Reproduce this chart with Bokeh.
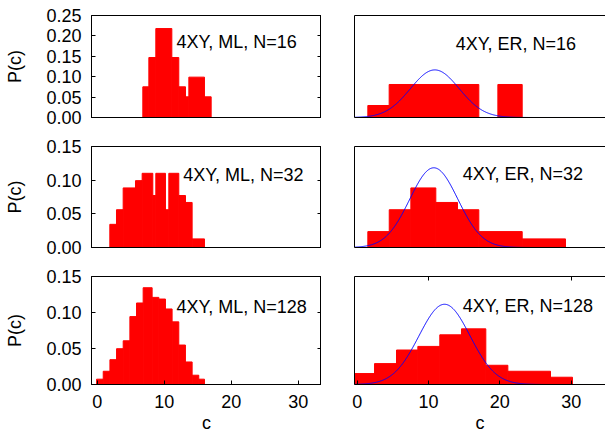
import numpy as np
from bokeh.plotting import figure
from bokeh.models import Range1d, FixedTicker, NumeralTickFormatter, LinearAxis, Label
from bokeh.layouts import column, row
from bokeh.embed import file_html
from bokeh.resources import INLINE

# ---------------- data ----------------
x_ticks = [0, 10, 20, 30]
x_top_ticks_er = [10, 30]
y_ticks_r1 = [0.00, 0.05, 0.10, 0.15, 0.20, 0.25]
y_ticks_r23 = [0.00, 0.05, 0.10, 0.15]

# ML histograms (bin left edge, bin right edge, P(c))
ml16_left = [6.81, 7.71, 8.75, 11.14, 12.18, 13.18, 13.68, 16.01]
ml16_right = [7.71, 8.75, 11.14, 12.18, 13.18, 13.68, 16.01, 17.01]
ml16_p = [0.0752, 0.147, 0.218, 0.147, 0.0752, 0.0507, 0.0989, 0.0507]

ml32_left = [1.885, 2.88, 3.876, 5.716, 6.71, 8.30, 8.75, 10.19, 10.69, 12.18, 13.18, 14.17]
ml32_right = [2.88, 3.876, 5.716, 6.71, 8.30, 8.75, 10.19, 10.69, 12.18, 13.18, 14.17, 16.01]
ml32_p = [0.0344, 0.0561, 0.0885, 0.0993, 0.1102, 0.0772, 0.1102, 0.0561, 0.1102, 0.0772, 0.0669, 0.0128]

ml128_left = [-0.09, 0.90, 1.90, 2.89, 3.88, 4.88, 5.87, 6.86, 8.20, 9.20, 10.19, 11.18, 12.18, 13.17, 14.17, 15.16]
ml128_right = [0.90, 1.90, 2.89, 3.88, 4.88, 5.87, 6.86, 8.20, 9.20, 10.19, 11.18, 12.18, 13.17, 14.17, 15.16, 16.01]
ml128_p = [0.0074, 0.0184, 0.0345, 0.0497, 0.0607, 0.0943, 0.1132, 0.1344, 0.1210, 0.1187,
           0.1049, 0.0870, 0.0548, 0.0313, 0.0129, 0.0074]

# ER histograms
er16_left = [1.49, 4.48, 19.72]
er16_right = [4.48, 17.05, 23.13]
er16_p = [0.0294, 0.0809, 0.0809]

er32_left = [1.49, 4.49, 7.52, 11.02, 14.06, 17.05, 23.13]
er32_right = [4.49, 7.52, 11.02, 14.06, 17.05, 23.13, 29.20]
er32_p = [0.0236, 0.0561, 0.0885, 0.0669, 0.0561, 0.0236, 0.0128]

er128_left = [-0.56, 2.43, 5.51, 8.50, 11.58, 14.62, 18.03, 21.12, 27.10]
er128_right = [2.43, 5.51, 8.50, 11.58, 14.62, 18.03, 21.12, 27.10, 30.18]
er128_p = [0.0152, 0.0290, 0.0479, 0.0529, 0.0690, 0.0773, 0.0267, 0.0184, 0.0101]

# Gaussian fits drawn on the ER panels (mean, standard deviation)
er_mu = [10.88, 10.74, 12.24]
er_sigma = [3.42, 3.37, 3.58]

panel_texts = [["4XY, ML, N=16", "4XY, ER, N=16"],
               ["4XY, ML, N=32", "4XY, ER, N=32"],
               ["4XY, ML, N=128", "4XY, ER, N=128"]]
y_label = "P(c)"
x_label = "c"

# ---------------- styling ----------------
FONT = "Liberation Sans"
FS = "18px"
L_XR = (-0.85, 33.48)
R_XR = (-0.38, 34.81)
rows_cfg = [
    dict(ymax=0.25, ticks=y_ticks_r1, fh=102, bt=15, bb=20),
    dict(ymax=0.15, ticks=y_ticks_r23, fh=101, bt=9, bb=20),
    dict(ymax=0.15, ticks=y_ticks_r23, fh=108, bt=9, bb=53),
]
text_pos = [[(11.84, 0.1846), (13.82, 0.179)],
            [(12.84, 0.108), (14.80, 0.1095)],
            [(11.84, 0.1083), (14.80, 0.1088)]]

ml_data = [(ml16_left, ml16_right, ml16_p), (ml32_left, ml32_right, ml32_p), (ml128_left, ml128_right, ml128_p)]
er_data = [(er16_left, er16_right, er16_p), (er32_left, er32_right, er32_p), (er128_left, er128_right, er128_p)]


def base_fig(cfg, left_col):
    xr = L_XR if left_col else R_XR
    p = figure(frame_width=230 if left_col else 251, frame_height=cfg["fh"],
               min_border_left=91 if left_col else 33, min_border_right=0,
               min_border_top=cfg["bt"], min_border_bottom=cfg["bb"],
               x_range=Range1d(*xr), y_range=Range1d(0, cfg["ymax"]),
               output_backend="svg", toolbar_location=None,
               background_fill_color="white", border_fill_color="white")
    p.grid.visible = False
    return p


def style_axis(ax, ticks, labels, tick_in=4):
    ax.ticker = FixedTicker(ticks=ticks)
    ax.minor_tick_line_color = None
    ax.major_tick_in = tick_in
    ax.major_tick_out = 0
    ax.major_tick_line_color = "black"
    ax.axis_line_color = "black"
    ax.major_label_text_font = FONT
    if labels:
        ax.major_label_text_font_size = FS
        ax.major_label_text_color = "black"
    else:
        ax.major_label_text_font_size = "1px"
        ax.major_label_text_color = None
        ax.major_label_standoff = 0
    ax.axis_label_text_font = FONT
    ax.axis_label_text_font_size = FS
    ax.axis_label_text_font_style = "normal"
    ax.axis_label_text_color = "black"


def text_label(x, y, txt, align="left", baseline="middle"):
    return Label(x=x, y=y, text=txt, text_align=align, text_baseline=baseline,
                 text_font=FONT, text_font_size=FS, text_color="black")


figs = []
for i, cfg in enumerate(rows_cfg):
    last = (i == 2)
    # ---- ML panel (left) ----
    pl = base_fig(cfg, True)
    l, r, v = ml_data[i]
    pl.quad(left=l, right=r, bottom=0, top=v, fill_color="#ff0000", line_color="#ff0000")
    pl.outline_line_color = "black"
    style_axis(pl.yaxis[0], cfg["ticks"], True)
    pl.yaxis[0].formatter = NumeralTickFormatter(format="0.00")
    pl.yaxis[0].major_label_standoff = 10
    pl.yaxis[0].axis_label = y_label
    pl.yaxis[0].axis_label_standoff = 18
    if last:
        style_axis(pl.xaxis[0], x_ticks, True)
        pl.xaxis[0].major_label_standoff = 10
        pl.xaxis[0].axis_label = x_label
        pl.xaxis[0].axis_label_standoff = 2
    else:
        style_axis(pl.xaxis[0], [], False, 0)
    rax = LinearAxis()
    style_axis(rax, cfg["ticks"], False)
    pl.add_layout(rax, "right")
    tx, ty = text_pos[i][0]
    pl.add_layout(text_label(tx, ty, panel_texts[i][0]))

    # ---- ER panel (right) ----
    pr = base_fig(cfg, False)
    l, r, v = er_data[i]
    pr.quad(left=l, right=r, bottom=0, top=v, fill_color="#ff0000", line_color="#ff0000")
    xs = np.linspace(R_XR[0], R_XR[1], 600)
    mu, sg = er_mu[i], er_sigma[i]
    ys = np.exp(-0.5 * ((xs - mu) / sg) ** 2) / (sg * np.sqrt(2 * np.pi))
    pr.line(xs, ys, line_color="#0000ff", line_width=1)
    pr.outline_line_color = None
    style_axis(pr.yaxis[0], [], False, 0)
    tax = LinearAxis()
    if last:
        style_axis(pr.xaxis[0], x_ticks, True)
        pr.xaxis[0].major_label_standoff = 10
        pr.xaxis[0].axis_label = x_label
        pr.xaxis[0].axis_label_standoff = 2
        style_axis(tax, x_top_ticks_er, False)
    else:
        style_axis(pr.xaxis[0], [], False, 0)
        style_axis(tax, [], False, 0)
    pr.add_layout(tax, "above")
    tx, ty = text_pos[i][1]
    pr.add_layout(text_label(tx, ty, panel_texts[i][1]))
    figs.append(row(pl, pr, spacing=0))

layout = column(*figs, spacing=0)
open("out.html", "w").write(file_html(layout, INLINE))
